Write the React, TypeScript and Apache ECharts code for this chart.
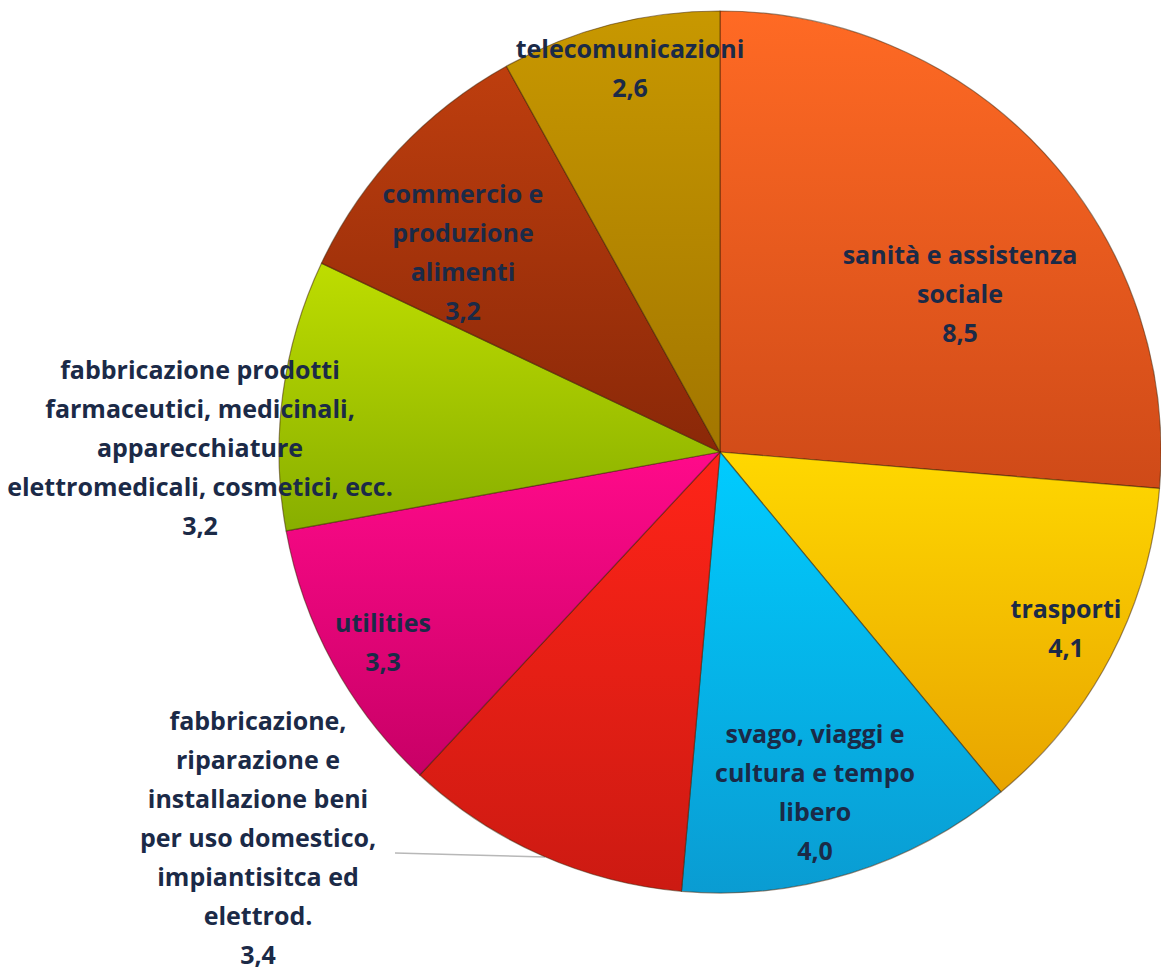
import React, { useEffect, useRef } from "react";
import * as echarts from "echarts";

const categories = [
  "sanità e assistenza\nsociale",
  "trasporti",
  "svago, viaggi e\ncultura e tempo\nlibero",
  "fabbricazione,\nriparazione e\ninstallazione beni\nper uso domestico,\nimpiantisitca ed\nelettrod.",
  "utilities",
  "fabbricazione prodotti\nfarmaceutici, medicinali,\napparecchiature\nelettromedicali, cosmetici, ecc.",
  "commercio e\nproduzione\nalimenti",
  "telecomunicazioni",
];
const values = [8.5, 4.1, 4.0, 3.4, 3.3, 3.2, 3.2, 2.6];

const topColors = ["#FF6A24", "#FFD800", "#00CCFF", "#FF2418", "#FF0A8A", "#BEDD00", "#BE3E0E", "#C89800"];
const bottomColors = ["#CF4A18", "#E8A400", "#0A9CD2", "#CC1A12", "#C80066", "#88AE00", "#8A2808", "#A27600"];

// label centres (layout only)
const labelPos = [
  [960, 293],
  [1066, 627],
  [815, 791],
  [258, 837],
  [383, 641],
  [200, 447],
  [463, 251],
  [630, 67],
];

export default function App() {
  const ref = useRef<HTMLDivElement>(null);
  useEffect(() => {
    document.body.style.margin = "0";
    const chart = echarts.init(ref.current!, null, { renderer: "svg" });
    const data = values.map((v, i) => ({
      name: categories[i],
      value: v,
      itemStyle: {
        color: new echarts.graphic.LinearGradient(0, 0, 0, 1, [
          { offset: 0, color: topColors[i] },
          { offset: 1, color: bottomColors[i] },
        ]),
      },
      label: i === 3 ? { position: "outside" } : { position: "inside" },
      labelLine: i === 3 ? { show: true } : { show: false },
    }));
    chart.setOption({
      animation: false,
      backgroundColor: "#ffffff",
      series: [
        {
          type: "pie",
          center: [720, 452],
          radius: 441,
          startAngle: 90,
          clockwise: true,
          data,
          itemStyle: {
            borderColor: "rgba(60,30,0,0.5)",
            borderWidth: 1.2,
          },
          label: {
            show: true,
            formatter: (p: any) => `${p.name}\n${p.value.toFixed(1).replace(".", ",")}`,
            fontFamily: "Open Sans",
            fontWeight: "bold",
            fontSize: 25,
            lineHeight: 39,
            color: "#1B2A47",
            align: "center",
          },
          labelLine: {
            lineStyle: { color: "#B8B8B8", width: 1.5 },
          },
          labelLayout: (params: any) => {
            const i = params.dataIndex;
            const [x, y] = labelPos[i];
            const out: any = { x, y, align: "center", verticalAlign: "middle" };
            if (i === 3) {
              out.labelLinePoints = [
                [545, 857],
                [470, 855],
                [395, 853],
              ];
            }
            return out;
          },
        },
      ],
    });
    return () => chart.dispose();
  }, []);
  return (
    <div
      ref={ref}
      style={{ position: "absolute", left: 0, top: 0, width: 1161, height: 972 }}
    />
  );
}
